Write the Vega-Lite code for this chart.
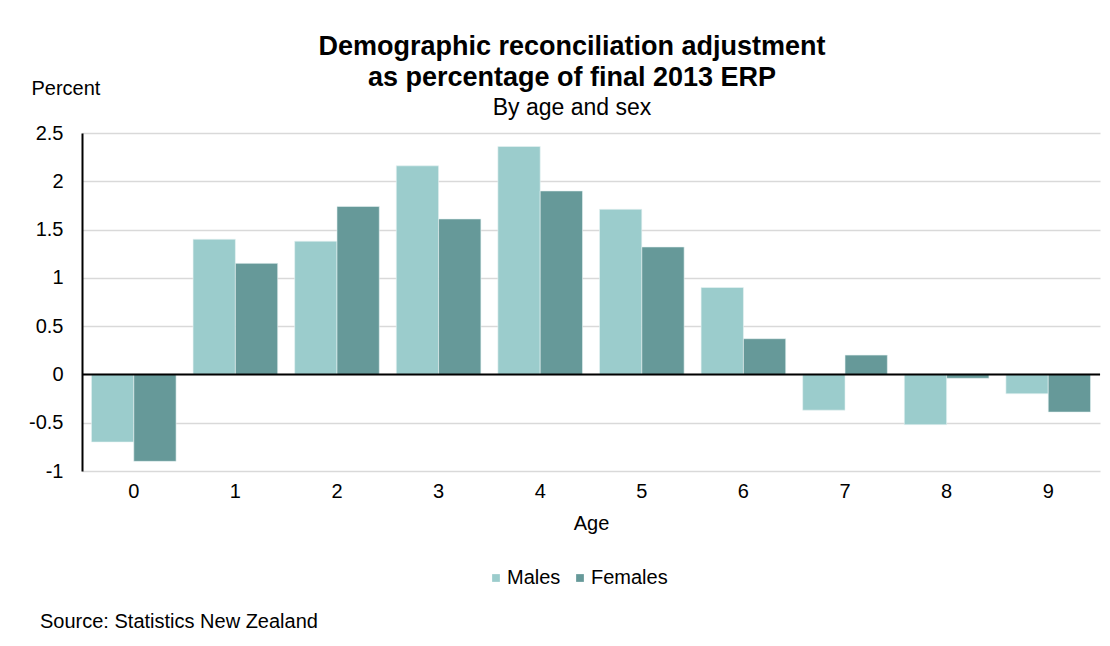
{
  "$schema": "https://vega.github.io/schema/vega-lite/v6.json",
  "width": 1018,
  "height": 338,
  "autosize": "none",
  "padding": {"left": 82, "top": 133, "right": 10, "bottom": 175},
  "background": "white",
  "config": {
    "font": "Liberation Sans",
    "view": {"stroke": null}
  },
  "title": {
    "text": ["Demographic reconciliation adjustment", "as percentage of final 2013 ERP"],
    "subtitle": "By age and sex",
    "fontSize": 27,
    "fontWeight": "bold",
    "lineHeight": 31,
    "subtitleFontSize": 23,
    "subtitleColor": "black",
    "subtitlePadding": 5,
    "color": "black",
    "anchor": "middle",
    "frame": "group",
    "dx": -19,
    "offset": -43
  },
  "datasets": {
    "bars": [
      {"age": "0", "sex": "Males", "pct": -0.70},
      {"age": "0", "sex": "Females", "pct": -0.90},
      {"age": "1", "sex": "Males", "pct": 1.40},
      {"age": "1", "sex": "Females", "pct": 1.15},
      {"age": "2", "sex": "Males", "pct": 1.38},
      {"age": "2", "sex": "Females", "pct": 1.74},
      {"age": "3", "sex": "Males", "pct": 2.16},
      {"age": "3", "sex": "Females", "pct": 1.61},
      {"age": "4", "sex": "Males", "pct": 2.36},
      {"age": "4", "sex": "Females", "pct": 1.90},
      {"age": "5", "sex": "Males", "pct": 1.71},
      {"age": "5", "sex": "Females", "pct": 1.32},
      {"age": "6", "sex": "Males", "pct": 0.90},
      {"age": "6", "sex": "Females", "pct": 0.37},
      {"age": "7", "sex": "Males", "pct": -0.37},
      {"age": "7", "sex": "Females", "pct": 0.20},
      {"age": "8", "sex": "Males", "pct": -0.52},
      {"age": "8", "sex": "Females", "pct": -0.04},
      {"age": "9", "sex": "Males", "pct": -0.20},
      {"age": "9", "sex": "Females", "pct": -0.39}
    ],
    "notes": [{"note": "Source: Statistics New Zealand"}]
  },
  "layer": [
    {
      "data": {"name": "bars"},
      "mark": {"type": "bar", "stroke": "#e8f4f4", "strokeWidth": 0.6},
      "encoding": {
        "x": {
          "field": "age",
          "type": "ordinal",
          "scale": {"paddingInner": 0.167, "paddingOuter": 0.093},
          "axis": {
            "title": "Age",
            "labelAngle": 0,
            "labelFontSize": 20,
            "labelColor": "black",
            "labelPadding": 10,
            "ticks": false,
            "domain": false,
            "titleFontSize": 20,
            "titleFontWeight": "normal",
            "titleColor": "black",
            "titlePadding": 12
          }
        },
        "xOffset": {"field": "sex", "type": "nominal", "sort": ["Males", "Females"]},
        "y": {
          "field": "pct",
          "type": "quantitative",
          "scale": {"domain": [-1, 2.5], "nice": false},
          "axis": {
            "values": [-1, -0.5, 0, 0.5, 1, 1.5, 2, 2.5],
            "labelExpr": "'' + datum.value",
            "title": "Percent",
            "titleAngle": 0,
            "titleAlign": "left",
            "titleBaseline": "middle",
            "titleX": -51,
            "titleY": -45,
            "titleFontSize": 20,
            "titleFontWeight": "normal",
            "titleColor": "black",
            "labelFontSize": 20,
            "labelColor": "black",
            "labelPadding": 19,
            "ticks": false,
            "domainColor": "black",
            "domainWidth": 2,
            "gridColor": "#d9d9d9",
            "gridWidth": 1.5
          }
        },
        "color": {
          "field": "sex",
          "type": "nominal",
          "scale": {"domain": ["Males", "Females"], "range": ["#9bcccc", "#669999"]},
          "legend": {
            "title": null,
            "orient": "none",
            "legendX": 404,
            "legendY": 435,
            "direction": "horizontal",
            "symbolType": "square",
            "symbolSize": 60,
            "symbolStrokeWidth": 0,
            "labelFontSize": 20,
            "labelColor": "black",
            "labelOffset": 1,
            "columnPadding": 9
          }
        }
      }
    },
    {
      "data": {"values": [{"zero": 0}]},
      "mark": {"type": "rule", "color": "black", "strokeWidth": 2},
      "encoding": {"y": {"field": "zero", "type": "quantitative"}}
    },
    {
      "data": {"name": "notes"},
      "mark": {"type": "text", "align": "left", "baseline": "middle", "fontSize": 20, "color": "black", "x": -42, "y": 489},
      "encoding": {"text": {"field": "note"}}
    }
  ]
}
